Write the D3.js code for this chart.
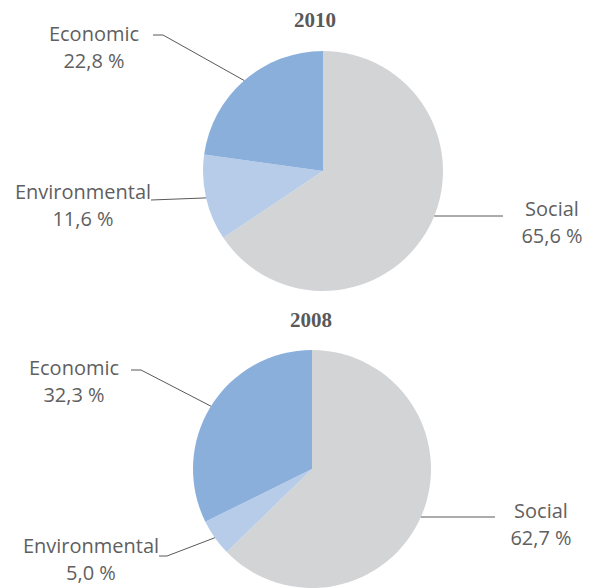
<!DOCTYPE html>
<html>
<head>
<meta charset="utf-8">
<script src="https://cdn.jsdelivr.net/npm/d3@7"></script>
<style>
  html, body { margin: 0; padding: 0; background: #fff; }
  svg { display: block; }
</style>
</head>
<body>
<svg id="chart" width="593" height="588"></svg>
<script>
// Share of projects by dimension, per year
const categories = ["Social", "Environmental", "Economic"];
const years = ["2010", "2008"];
const values2010 = [65.6, 11.6, 22.8];
const values2008 = [62.7, 5.0, 32.3];

const colors = d3.scaleOrdinal()
  .domain(categories)
  .range(["#d3d4d6", "#b6cce9", "#8bafdb"]);

const fmt = v => d3.format(".1f")(v).replace(".", ",") + " %";

// Layout for each pie: centre, radius, title, and label placement
// (x, y: label text anchor/baseline; lx, ly: where the leader leaves the label)
const layouts = [
  {
    cx: 323, cy: 171, r: 120, titleX: 315, titleY: 27,
    labels: {
      Economic:      { x: 94,  y: 41,  side: "left",  lx: 153, ly: 35,  elbow: 10 },
      Environmental: { x: 83,  y: 199, side: "left",  lx: 151, ly: 200, elbow: 0 },
      Social:        { x: 552, y: 216, side: "right", lx: 503, ly: 216, elbow: 0 }
    }
  },
  {
    cx: 312, cy: 469, r: 119, titleX: 311, titleY: 327,
    labels: {
      Economic:      { x: 74,  y: 375, side: "left",  lx: 131, ly: 370, elbow: 10 },
      Environmental: { x: 91,  y: 553, side: "left",  lx: 159, ly: 556, elbow: 8 },
      Social:        { x: 541, y: 518, side: "right", lx: 495, ly: 517, elbow: 0 }
    }
  }
];

const svg = d3.select("#chart");
const pie = d3.pie().sort(null).value(d => d.value);

[values2010, values2008].forEach((vals, i) => {
  const L = layouts[i];
  const data = categories.map((c, k) => ({ name: c, value: vals[k] }));
  const arcs = pie(data);
  const arc = d3.arc().innerRadius(0).outerRadius(L.r);

  svg.append("text")
    .attr("x", L.titleX)
    .attr("y", L.titleY)
    .attr("text-anchor", "middle")
    .attr("font-family", "'Liberation Serif', 'Times New Roman', serif")
    .attr("font-weight", "bold")
    .attr("font-size", 21)
    .attr("fill", "#595959")
    .text(years[i]);

  const g = svg.append("g").attr("transform", `translate(${L.cx},${L.cy})`);
  g.selectAll("path.slice")
    .data(arcs)
    .join("path")
    .attr("class", "slice")
    .attr("d", arc)
    .attr("fill", d => colors(d.data.name));

  // Leader lines and labels
  arcs.forEach(a => {
    const lab = L.labels[a.data.name];
    let pts;
    if (lab.side === "left") {
      // leader ends at the slice's mid-angle on the rim
      const mid = (a.startAngle + a.endAngle) / 2;
      const ax = L.cx + L.r * Math.sin(mid);
      const ay = L.cy - L.r * Math.cos(mid);
      pts = [[lab.lx, lab.ly], [lab.lx + lab.elbow, lab.ly], [ax, ay]];
    } else {
      // horizontal leader meeting the rim at the label's height
      const dy = lab.ly - L.cy;
      const ax = L.cx + Math.sqrt(L.r * L.r - dy * dy);
      pts = [[ax, lab.ly], [lab.lx, lab.ly]];
    }
    svg.append("path")
      .attr("d", d3.line()(pts))
      .attr("fill", "none")
      .attr("stroke", "#595959")
      .attr("stroke-width", 1);

    const t = svg.append("text")
      .attr("text-anchor", "middle")
      .attr("font-family", "'Open Sans', sans-serif")
      .attr("font-size", 20)
      .attr("fill", "#5f5f5f");
    t.append("tspan").attr("x", lab.x).attr("y", lab.y).text(a.data.name);
    t.append("tspan").attr("x", lab.x).attr("y", lab.y + 27).text(fmt(a.data.value));
  });
});
</script>
</body>
</html>
